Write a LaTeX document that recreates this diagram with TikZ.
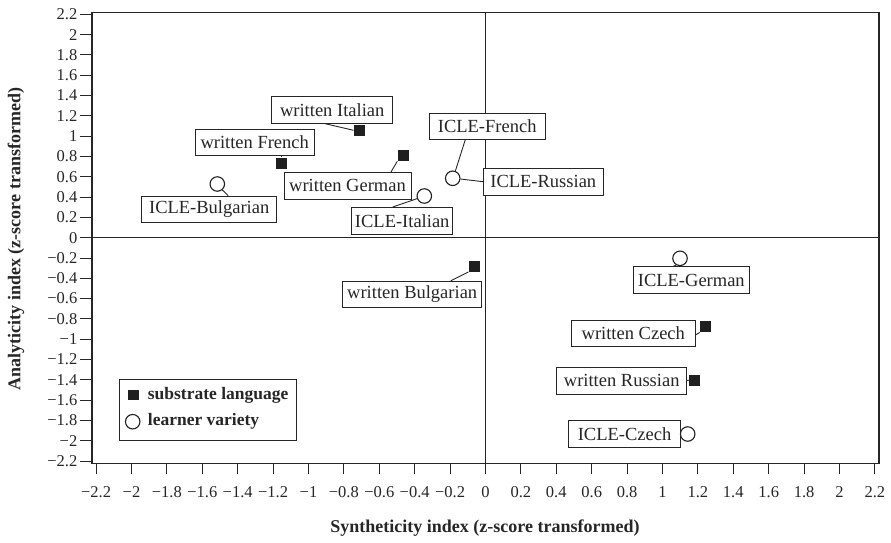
\documentclass[tikz,border=0pt]{standalone}
\usepackage{fontspec}
\setmainfont{Liberation Serif}
\begin{document}
\begin{tikzpicture}[x=1pt,y=-1pt,
  axisline/.style={draw=black!85,line width=1.1pt},
  tickline/.style={draw=black!85,line width=1pt},
  ticklab/.style={font=\fontsize{16.5}{19}\selectfont,inner sep=0pt,text=black!85},
  lab/.style={draw=black!85,line width=0.9pt,fill=white,minimum height=26.5pt,inner xsep=3pt,inner ysep=0pt,font=\fontsize{18.5}{21}\selectfont,text=black!85},
  sq/.style={fill=black!88,minimum size=11pt,inner sep=0pt},
  ci/.style={circle,draw=black!88,line width=1.1pt,fill=white,minimum size=14.5pt,inner sep=0pt},
  leader/.style={draw=black!85,line width=0.9pt},
  title/.style={font=\bfseries\fontsize{18}{21}\selectfont,text=black!85,inner sep=0pt}]
\useasboundingbox (0,0) rectangle (891,543);
% frame
\draw[axisline] (92,12.3) rectangle (879,463.3);
% zero lines
\draw[axisline] (485.5,12.3) -- (485.5,463.3);
\draw[axisline] (92,237.7) -- (879,237.7);
% y ticks
\foreach \v/\t [count=\k] in {2.2/2.2,2/2,1.8/1.8,1.6/1.6,1.4/1.4,1.2/1.2,1/1,0.8/0.8,0.6/0.6,0.4/0.4,0.2/0.2,0/0,-0.2/−0.2,-0.4/−0.4,-0.6/−0.6,-0.8/−0.8,-1/−1,-1.2/−1.2,-1.4/−1.4,-1.6/−1.6,-1.8/−1.8,-2/−2,-2.2/−2.2}{
  \draw[tickline] (80,{237.7-101.5*\v}) -- (92,{237.7-101.5*\v});
  \node[ticklab,anchor=east] (yt\k) at (77.5,{237.7-101.5*\v}) {\t};
}
% x ticks
\foreach \v/\t [count=\k] in {-2.2/−2.2,-2/−2,-1.8/−1.8,-1.6/−1.6,-1.4/−1.4,-1.2/−1.2,-1/−1,-0.8/−0.8,-0.6/−0.6,-0.4/−0.4,-0.2/−0.2,0/0,0.2/0.2,0.4/0.4,0.6/0.6,0.8/0.8,1/1,1.2/1.2,1.4/1.4,1.6/1.6,1.8/1.8,2/2,2.2/2.2}{
  \draw[tickline] ({485.5+177*\v},463.3) -- ({485.5+177*\v},474);
  \node[ticklab,anchor=center] (xt\k) at ({485.5+177*\v},492) {\t};
}
% titles
\node[title] (xtitle) at (485,528) {Syntheticity index (z-score transformed)};
\node[title,rotate=90] (ytitle) at (16,239) {Analyticity index (z-score transformed)};
% labels
\node[lab,minimum width=121pt] (lwIt) at (332.2,110) {written Italian};
\node[lab,minimum width=119.3pt] (lwFr) at (254.7,142.2) {written French};
\node[lab,minimum width=127pt] (lwGe) at (347.5,185.7) {written German};
\node[lab,minimum width=135pt] (lIBu) at (209.2,209.3) {ICLE-Bulgarian};
\node[lab,minimum width=101pt] (lIIt) at (402.2,220.7) {ICLE-Italian};
\node[lab,minimum width=116pt] (lIFr) at (487.2,126.3) {ICLE-French};
\node[lab,minimum width=120pt] (lIRu) at (543.3,181.7) {ICLE-Russian};
\node[lab,minimum width=139pt] (lwBu) at (412.2,294.5) {written Bulgarian};
\node[lab,minimum width=116pt] (lIGe) at (691.3,280) {ICLE-German};
\node[lab,minimum width=123.3pt] (lwCz) at (633.3,333.3) {written Czech};
\node[lab,minimum width=130pt] (lwRu) at (621.7,380.7) {written Russian};
\node[lab,minimum width=112.4pt] (lICz) at (624.5,434) {ICLE-Czech};
% points
\node[sq] (pwIt) at (359.3,130.3) {};
\node[sq] (pwFr) at (281.7,163) {};
\node[sq] (pwGe) at (403,155.5) {};
\node[sq] (pwBu) at (474.2,266.2) {};
\node[sq] (pwCz) at (705.5,326.7) {};
\node[sq] (pwRu) at (694.5,380) {};
\node[ci] (pIBu) at (217.3,184) {};
\node[ci] (pIIt) at (424.3,196) {};
\node[ci] (pIFr) at (452.7,178.3) {};
\node[ci] (pIGe) at (680,258.3) {};
\node[ci] (pICz) at (687.7,434) {};
% leaders
\draw[leader] ([xshift=-7pt]lwIt.south) -- (pwIt.west);
\draw[leader] (lwFr.south -| pwFr) -- (pwFr.north);
\draw[leader] ([xshift=43.5pt]lwGe.north) -- (pwGe.south west);
\draw[leader] ([xshift=19pt]lIBu.north) -- (pIBu.-50);
\draw[leader] ([xshift=-9.5pt]lIIt.north) -- (pIIt.200);
\draw[leader] ([xshift=-22pt]lIFr.south) -- (pIFr.70);
\draw[leader] (pIFr.-5) -- (lIRu.west);
\draw[leader] ([xshift=38.5pt]lwBu.north) -- (pwBu.south west);
\draw[leader] ([xshift=-18pt]lIGe.north) -- (pIGe.240);
\draw[leader] ([yshift=-1.7pt]lwCz.east) -- (pwCz.south west);
\draw[leader] (lwRu.east) -- (pwRu.west);
% legend
\node[draw=black!85,line width=0.9pt,fill=white,minimum width=177.4pt,minimum height=60.7pt,inner sep=0pt] (leg) at (208,409.7) {};
\node[sq,minimum size=10.5pt] (legsq) at (133.3,395) {};
\node[ci] (legci) at (132.7,421.7) {};
\node[title,font=\bfseries\fontsize{17.5}{20}\selectfont,anchor=west] (legt1) at (147.7,395) {substrate language};
\node[title,font=\bfseries\fontsize{17.5}{20}\selectfont,anchor=west] (legt2) at (147.7,421.7) {learner variety};
\end{tikzpicture}
\end{document}
